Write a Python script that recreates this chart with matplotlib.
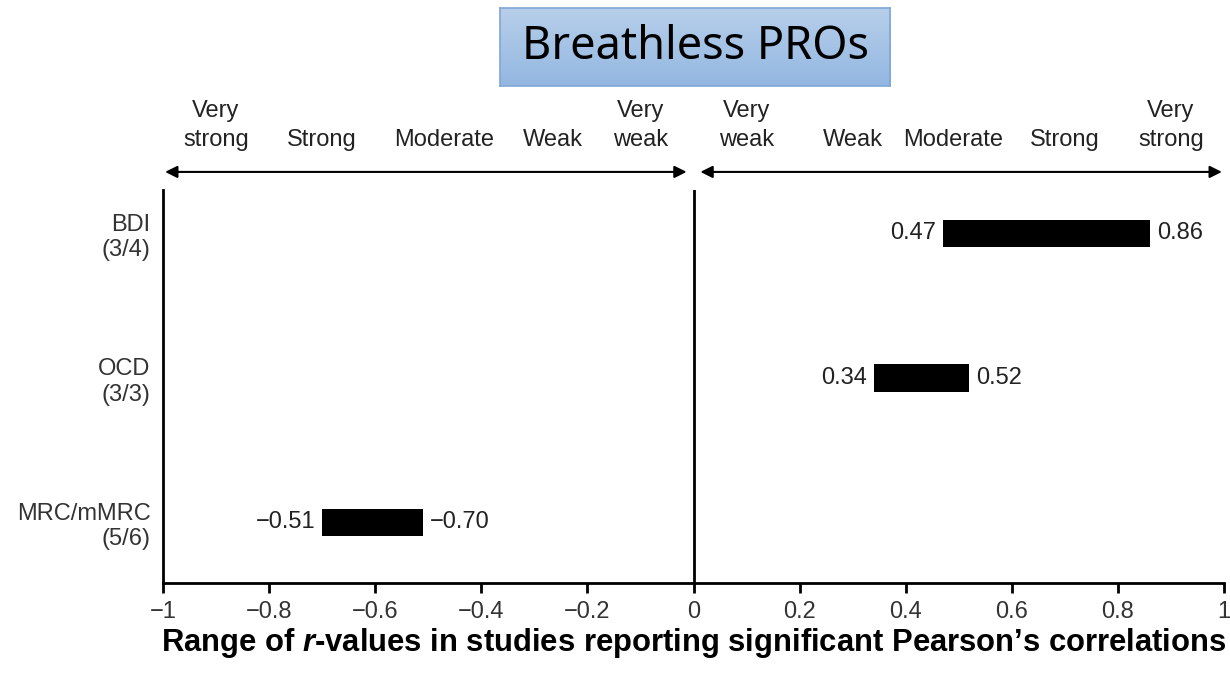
import numpy as np
import matplotlib.pyplot as plt
import matplotlib.transforms as mtransforms
from matplotlib.colors import LinearSegmentedColormap

plt.rcParams['font.family'] = ['Liberation Sans', 'DejaVu Sans']
plt.rcParams['mathtext.fontset'] = 'custom'
plt.rcParams['mathtext.bfit'] = 'Liberation Sans:italic:bold'
plt.rcParams['mathtext.bf'] = 'Liberation Sans:bold'
plt.rcParams['mathtext.rm'] = 'Liberation Sans'

# Data
categories = ['BDI\n(3/4)', 'OCD\n(3/3)', 'MRC/mMRC\n(5/6)']
y_pos = [3, 2, 1]
bar_start = [0.47, 0.34, -0.70]
bar_end = [0.86, 0.52, -0.51]
left_labels = ['0.47', '0.34', '\u22120.51']
right_labels = ['0.86', '0.52', '\u22120.70']

x_ticks = [-1, -0.8, -0.6, -0.4, -0.2, 0, 0.2, 0.4, 0.6, 0.8, 1]
x_tick_labels = ['\u22121', '\u22120.8', '\u22120.6', '\u22120.4', '\u22120.2',
                 '0', '0.2', '0.4', '0.6', '0.8', '1']

strength_left = ['Very\nstrong', 'Strong', 'Moderate', 'Weak', 'Very\nweak']
strength_left_x = [-0.9, -0.7, -0.47, -0.265, -0.1]
strength_right = ['Very\nweak', 'Weak', 'Moderate', 'Strong', 'Very\nstrong']
strength_right_x = [0.1, 0.3, 0.49, 0.7, 0.9]

text_col = '#222222'

fig = plt.figure(figsize=(12.3, 6.74), dpi=100)
ax = fig.add_axes([163 / 1230, 1 - 583 / 674, (1224 - 163) / 1230, (583 - 190) / 674])

widths = [e - s for s, e in zip(bar_start, bar_end)]
ax.barh(y_pos, widths, left=bar_start, height=0.19, color='black')

for y, s, e, ll, rl in zip(y_pos, bar_start, bar_end, left_labels, right_labels):
    ax.annotate(ll, (s, y), xytext=(-5, 0), textcoords='offset points',
                ha='right', va='center', fontsize=17, color=text_col)
    ax.annotate(rl, (e, y), xytext=(5, 0), textcoords='offset points',
                ha='left', va='center', fontsize=17, color=text_col)

ax.axvline(0, color='black', lw=2)

ax.set_xlim(-1, 1)
ax.set_ylim(0.58, 3.3)
ax.set_xticks(x_ticks)
ax.set_xticklabels(x_tick_labels)
ax.set_yticks(y_pos)
ax.set_yticklabels(categories, ha='right', multialignment='right')
ax.tick_params(axis='x', length=7, width=2, labelsize=17, labelcolor='#333333', pad=6)
ax.tick_params(axis='y', length=0, labelsize=17, labelcolor='#333333', pad=9)

for side in ['top', 'right']:
    ax.spines[side].set_visible(False)
for side in ['left', 'bottom']:
    ax.spines[side].set_linewidth(2)

ax.set_xlabel('Range of $\\mathbfit{r}$-values in studies reporting significant Pearson\u2019s correlations',
              fontsize=22.3, fontweight='bold', color='black', labelpad=2)

# strength scale arrows and labels above the plot
trans = mtransforms.blended_transform_factory(ax.transData, ax.transAxes)
arrow_y = 1.046
for x0, x1 in [(-0.996, -0.013), (0.013, 0.996)]:
    ax.annotate('', xy=(x1, arrow_y), xytext=(x0, arrow_y), xycoords=trans, textcoords=trans,
                arrowprops=dict(arrowstyle='<|-|>', color='black', lw=1.5,
                                mutation_scale=18, shrinkA=0, shrinkB=0),
                annotation_clip=False)

for lab, x in zip(strength_left + strength_right, strength_left_x + strength_right_x):
    ax.text(x, 1.112, lab, transform=trans, ha='center', va='baseline',
            fontsize=17, color=text_col, linespacing=1.4, clip_on=False)

# title box with gradient fill
tax = fig.add_axes([500 / 1230, 1 - 86 / 674, 390 / 1230, 78 / 674])
grad = np.linspace(0, 1, 100).reshape(-1, 1)
cmap = LinearSegmentedColormap.from_list('title', ['#b7cfea', '#93b7e1'])
tax.imshow(grad, aspect='auto', cmap=cmap, extent=[0, 1, 0, 1], origin='upper')
tax.set_xticks([])
tax.set_yticks([])
for sp in tax.spines.values():
    sp.set_color('#7fa6d6')
    sp.set_linewidth(1.2)
tax.text(0.5, 0.5, 'Breathless PROs', ha='center', va='center', fontsize=32.5,
         family=['Noto Sans', 'DejaVu Sans'], color='black', transform=tax.transAxes)

fig.savefig('out.png', dpi=100)
